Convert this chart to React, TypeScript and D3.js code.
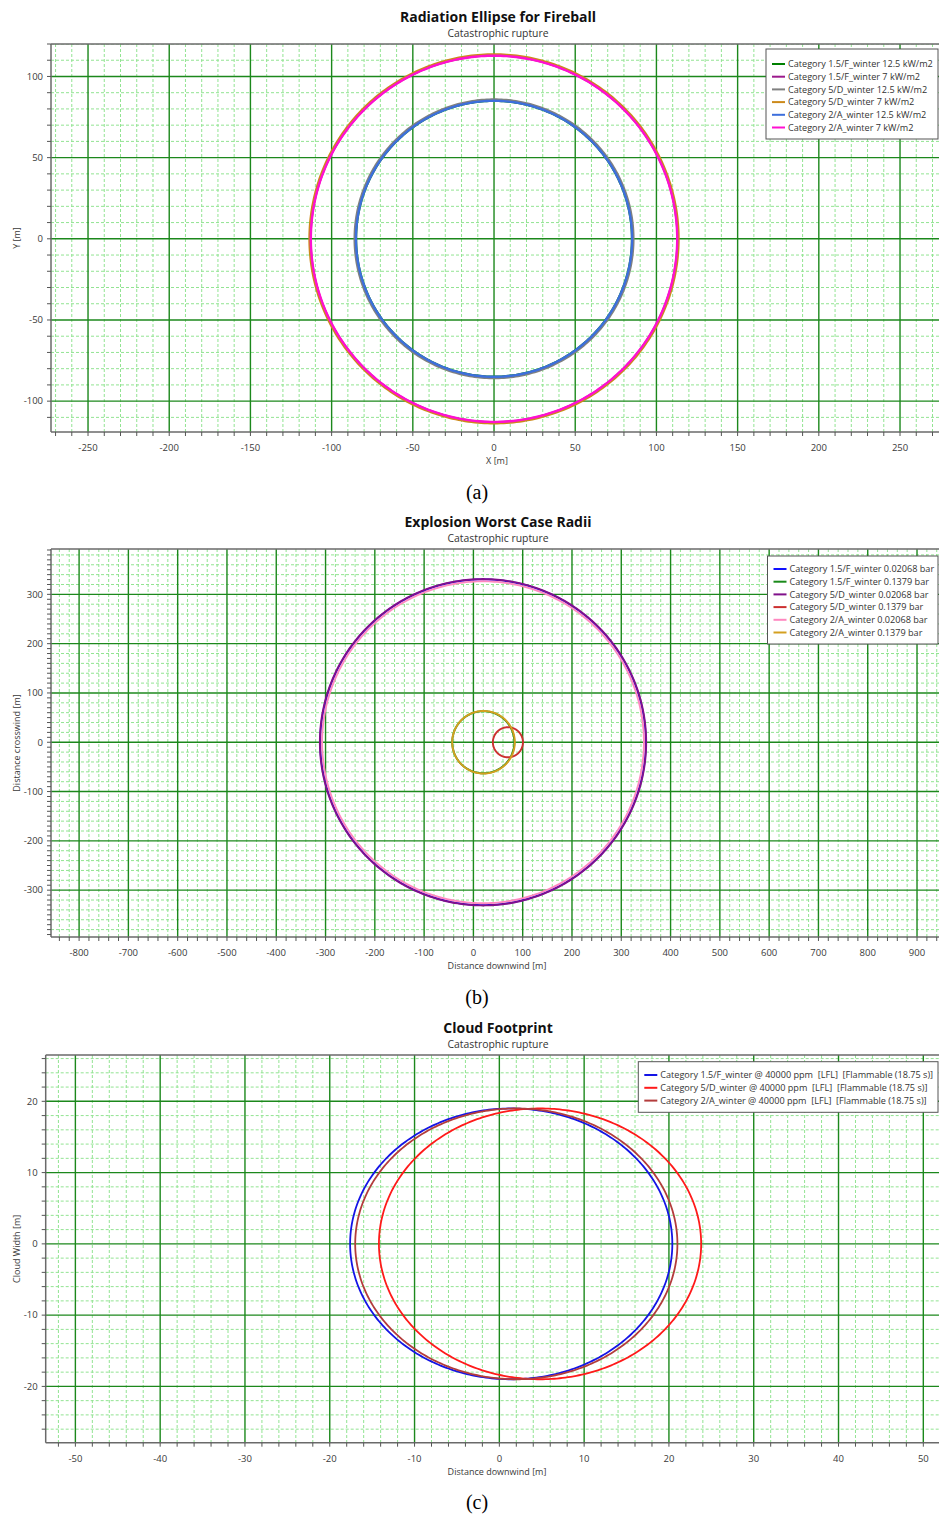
import * as d3 from 'd3';

const W = 939;
const H = 1517;
const FONT = "'Open Sans', 'Noto Sans', sans-serif";

// (a) Radiation Ellipse for Fireball
const fireballLabels = [
  'Category 1.5/F_winter 12.5 kW/m2',
  'Category 1.5/F_winter 7 kW/m2',
  'Category 5/D_winter 12.5 kW/m2',
  'Category 5/D_winter 7 kW/m2',
  'Category 2/A_winter 12.5 kW/m2',
  'Category 2/A_winter 7 kW/m2',
];
const fireballCx = [0, 0, 0, 0, 0, 0];
const fireballCy = [0, 0, 0, 0, 0, 0];
const fireballR = [85, 113, 85.8, 113.6, 85, 112.8];
const fireballColors = ['#008000', '#9c1a8c', '#808080', '#cc8a1a', '#3d6fdc', '#ff10d0'];

// (b) Explosion Worst Case Radii
const explosionLabels = [
  'Category 1.5/F_winter 0.02068 bar',
  'Category 1.5/F_winter 0.1379 bar',
  'Category 5/D_winter 0.02068 bar',
  'Category 5/D_winter 0.1379 bar',
  'Category 2/A_winter 0.02068 bar',
  'Category 2/A_winter 0.1379 bar',
];
const explosionCx = [19.5, 20, 19.5, 70, 19.5, 20.5];
const explosionCy = [0, 0, 0, 0, 0, 0];
const explosionR = [330.2, 63, 331, 30.5, 326.5, 63.5];
const explosionColors = ['#1010ff', '#1a8a1a', '#80108a', '#cc3030', '#ff88c0', '#d4a020'];

// (c) Cloud Footprint
const cloudLabels = [
  'Category 1.5/F_winter @ 40000 ppm  [LFL]  [Flammable (18.75 s)]',
  'Category 5/D_winter @ 40000 ppm  [LFL]  [Flammable (18.75 s)]',
  'Category 2/A_winter @ 40000 ppm  [LFL]  [Flammable (18.75 s)]',
];
const cloudCx = [1.4, 4.8, 2.0];
const cloudCy = [0, 0, 0];
const cloudR = [19, 19, 19];
const cloudColors = ['#1414e6', '#ff1a1a', '#b33c3c'];

type PanelProps = {
  id: string;
  title: string;
  subtitle: string;
  titleY: number;
  left: number;
  top: number;
  right: number;
  bottom: number;
  xDomain: [number, number];
  yDomain: [number, number];
  xMajor: number;
  yMajor: number;
  xMinor: number;
  yMinor: number;
  xTick: number;
  yTick: number;
  xLabel: string;
  yLabel: string;
  labels: string[];
  cx: number[];
  cy: number[];
  r: number[];
  colors: string[];
  lineWidth: number;
  legend: { x: number; y: number; w: number; h: number; row0: number; rowH: number };
  caption: string;
  captionY: number;
};

const stepsIn = (d: [number, number], s: number) =>
  d3.range(Math.ceil(d[0] / s) * s, d[1] + 1e-9, s);
const isMajor = (v: number, m: number) => Math.abs(v / m - Math.round(v / m)) < 1e-6;

function Panel(p: PanelProps) {
  const x = d3.scaleLinear().domain(p.xDomain).range([p.left, p.right]);
  const y = d3.scaleLinear().domain(p.yDomain).range([p.bottom, p.top]);

  const xMaj = stepsIn(p.xDomain, p.xMajor);
  const yMaj = stepsIn(p.yDomain, p.yMajor);
  const xMin = stepsIn(p.xDomain, p.xMinor).filter((v) => !isMajor(v, p.xMajor));
  const yMin = stepsIn(p.yDomain, p.yMinor).filter((v) => !isMajor(v, p.yMajor));
  const xTicks = stepsIn(p.xDomain, p.xTick);
  const yTicks = stepsIn(p.yDomain, p.yTick);

  // circle outlines, sampled every degree and mapped through the scales
  const angles = d3.range(0, 360, 1).map((a) => (a * Math.PI) / 180);
  const line = d3
    .line<[number, number]>()
    .x((d) => x(d[0]))
    .y((d) => y(d[1]))
    .curve(d3.curveLinearClosed);

  const axisColor = '#6a6a6a';
  const minorColor = '#92e492';
  const majorColor = '#1c881c';

  return (
    <g>
      <defs>
        <clipPath id={`clip-${p.id}`}>
          <rect x={p.left} y={p.top} width={p.right - p.left} height={p.bottom - p.top} />
        </clipPath>
      </defs>

      <text x={498} y={p.titleY} textAnchor="middle" fontFamily={FONT} fontWeight="bold" fontSize={14} fill="#111">
        {p.title}
      </text>
      <text x={498} y={p.titleY + 15} textAnchor="middle" fontFamily={FONT} fontSize={10.4} fill="#333">
        {p.subtitle}
      </text>

      <g clipPath={`url(#clip-${p.id})`}>
        {xMin.map((v) => (
          <line key={`xm${v}`} x1={x(v)} x2={x(v)} y1={p.top} y2={p.bottom} stroke={minorColor} strokeWidth={1} strokeDasharray="3,2" />
        ))}
        {yMin.map((v) => (
          <line key={`ym${v}`} x1={p.left} x2={p.right} y1={y(v)} y2={y(v)} stroke={minorColor} strokeWidth={1} strokeDasharray="3,2" />
        ))}
        {xMaj.map((v) => (
          <line key={`xM${v}`} x1={x(v)} x2={x(v)} y1={p.top} y2={p.bottom} stroke={majorColor} strokeWidth={1.4} />
        ))}
        {yMaj.map((v) => (
          <line key={`yM${v}`} x1={p.left} x2={p.right} y1={y(v)} y2={y(v)} stroke={majorColor} strokeWidth={1.4} />
        ))}
        {p.r.map((rad, i) => (
          <path
            key={`c${i}`}
            d={line(angles.map((a) => [p.cx[i] + rad * Math.cos(a), p.cy[i] + rad * Math.sin(a)] as [number, number])) || ''}
            fill="none"
            stroke={p.colors[i]}
            strokeWidth={p.lineWidth}
          />
        ))}
      </g>

      {/* frame */}
      <line x1={p.left} x2={p.right} y1={p.top} y2={p.top} stroke={axisColor} strokeWidth={1.5} />
      <line x1={p.left} x2={p.right} y1={p.bottom} y2={p.bottom} stroke={axisColor} strokeWidth={1.5} />
      <line x1={p.left} x2={p.left} y1={p.top} y2={p.bottom} stroke={axisColor} strokeWidth={1.5} />

      {xTicks.map((v) => (
        <line key={`xt${v}`} x1={x(v)} x2={x(v)} y1={p.bottom} y2={p.bottom + 4} stroke="#555" strokeWidth={1} />
      ))}
      {xMaj.map((v) => (
        <text key={`xl${v}`} x={x(v)} y={p.bottom + 19} textAnchor="middle" fontFamily={FONT} fontSize={9.5} fill="#3a3a3a">
          {v}
        </text>
      ))}
      {yTicks.map((v) => (
        <line key={`yt${v}`} x1={p.left - 4} x2={p.left} y1={y(v)} y2={y(v)} stroke="#555" strokeWidth={1} />
      ))}
      {yMaj.map((v) => (
        <text key={`yl${v}`} x={p.left - 8} y={y(v) + 3.3} textAnchor="end" fontFamily={FONT} fontSize={9.5} fill="#3a3a3a">
          {v}
        </text>
      ))}

      <text x={497} y={p.bottom + 32} textAnchor="middle" fontFamily={FONT} fontSize={9} fill="#3a3a3a">
        {p.xLabel}
      </text>
      <text
        transform={`translate(${20},${(p.top + p.bottom) / 2}) rotate(-90)`}
        textAnchor="middle"
        fontFamily={FONT}
        fontSize={9}
        fill="#3a3a3a"
      >
        {p.yLabel}
      </text>

      {/* legend */}
      <rect x={p.legend.x} y={p.legend.y} width={p.legend.w} height={p.legend.h} fill="#fff" stroke="#555" strokeWidth={1} />
      {p.labels.map((lab, i) => {
        const ry = p.legend.row0 + i * p.legend.rowH;
        return (
          <g key={`lg${i}`}>
            <line x1={p.legend.x + 6} x2={p.legend.x + 19} y1={ry} y2={ry} stroke={p.colors[i]} strokeWidth={2} />
            <text
              x={p.legend.x + 22}
              y={ry + 3.2}
              fontFamily={FONT}
              fontSize={9.1}
              fill="#333"
              style={{ whiteSpace: 'pre' }}
            >
              {lab}
            </text>
          </g>
        );
      })}

      <text x={477} y={p.captionY} textAnchor="middle" fontFamily="'Liberation Serif', 'Times New Roman', serif" fontSize={20} fill="#000">
        {p.caption}
      </text>
    </g>
  );
}

export default function App() {
  return (
    <div style={{ position: 'absolute', left: 0, top: 0, width: W, height: H, background: '#fff' }}>
      <svg width={W} height={H} viewBox={`0 0 ${W} ${H}`}>
        <rect x={0} y={0} width={W} height={H} fill="#fff" />
        <Panel
          id="a"
          title="Radiation Ellipse for Fireball"
          subtitle="Catastrophic rupture"
          titleY={21.5}
          left={51}
          top={44}
          right={939}
          bottom={432}
          xDomain={[-272.8, 274]}
          yDomain={[-119, 120]}
          xMajor={50}
          yMajor={50}
          xMinor={10}
          yMinor={10}
          xTick={10}
          yTick={10}
          xLabel="X [m]"
          yLabel="Y [m]"
          labels={fireballLabels}
          cx={fireballCx}
          cy={fireballCy}
          r={fireballR}
          colors={fireballColors}
          lineWidth={2.4}
          legend={{ x: 766, y: 49, w: 172, h: 90, row0: 64, rowH: 12.7 }}
          caption="(a)"
          captionY={499}
        />
        <Panel
          id="b"
          title="Explosion Worst Case Radii"
          subtitle="Catastrophic rupture"
          titleY={527}
          left={51}
          top={549}
          right={939}
          bottom={937}
          xDomain={[-857, 944.6]}
          yDomain={[-395, 392]}
          xMajor={100}
          yMajor={100}
          xMinor={20}
          yMinor={20}
          xTick={20}
          yTick={10}
          xLabel="Distance downwind [m]"
          yLabel="Distance crosswind [m]"
          labels={explosionLabels}
          cx={explosionCx}
          cy={explosionCy}
          r={explosionR}
          colors={explosionColors}
          lineWidth={1.9}
          legend={{ x: 767.5, y: 556, w: 170.5, h: 88, row0: 569, rowH: 12.7 }}
          caption="(b)"
          captionY={1004}
        />
        <Panel
          id="c"
          title="Cloud Footprint"
          subtitle="Catastrophic rupture"
          titleY={1032.5}
          left={45.7}
          top={1055}
          right={939}
          bottom={1442.7}
          xDomain={[-53.5, 51.85]}
          yDomain={[-27.9, 26.5]}
          xMajor={10}
          yMajor={10}
          xMinor={2}
          yMinor={2}
          xTick={2}
          yTick={2}
          xLabel="Distance downwind [m]"
          yLabel="Cloud Width [m]"
          labels={cloudLabels}
          cx={cloudCx}
          cy={cloudCy}
          r={cloudR}
          colors={cloudColors}
          lineWidth={1.8}
          legend={{ x: 638.3, y: 1061.7, w: 299.7, h: 50.6, row0: 1075, rowH: 12.8 }}
          caption="(c)"
          captionY={1509}
        />
      </svg>
    </div>
  );
}
